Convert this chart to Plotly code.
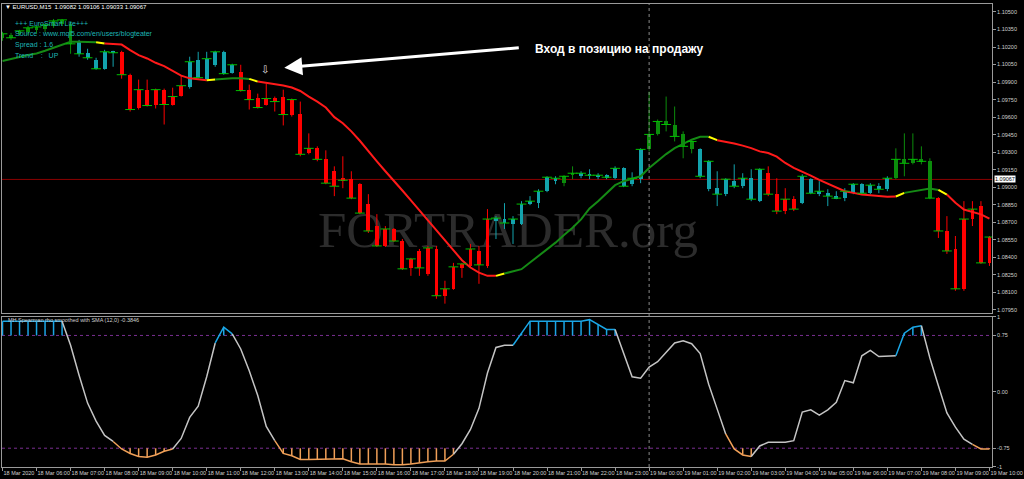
import plotly.graph_objects as go

# ---------------- data ----------------
time_labels = ["18 Mar 2020", "18 Mar 06:00", "18 Mar 07:00", "18 Mar 08:00", "18 Mar 09:00",
               "18 Mar 10:00", "18 Mar 11:00", "18 Mar 12:00", "18 Mar 13:00", "18 Mar 14:00",
               "18 Mar 15:00", "18 Mar 16:00", "18 Mar 17:00", "18 Mar 18:00", "18 Mar 19:00",
               "18 Mar 20:00", "18 Mar 21:00", "18 Mar 22:00", "18 Mar 23:00", "19 Mar 00:00",
               "19 Mar 01:00", "19 Mar 02:00", "19 Mar 03:00", "19 Mar 04:00", "19 Mar 05:00",
               "19 Mar 06:00", "19 Mar 07:00", "19 Mar 08:00", "19 Mar 09:00", "19 Mar 10:00"]
bars_per_hour = 4

price_ticks = [1.07950, 1.08100, 1.08250, 1.08400, 1.08550, 1.08700, 1.08850, 1.09000, 1.09150,
               1.09300, 1.09450, 1.09600, 1.09750, 1.09900, 1.10050, 1.10200, 1.10350, 1.10500]

opens = [1.10279, 1.10304, 1.10313, 1.10330, 1.10347, 1.10355, 1.10381, 1.10398, 1.10398, 1.10244,
         1.10151, 1.10091, 1.10014, 1.10159, 1.10159, 1.09963, 1.09674, 1.09835, 1.09708, 1.09835,
         1.09708, 1.09784, 1.09861, 1.10091, 1.09929, 1.10048, 1.10159, 1.09980, 1.09989, 1.09835,
         1.09767, 1.09708, 1.09767, 1.09776, 1.09622, 1.09631, 1.09290, 1.09333, 1.09239, 1.09137,
         1.09077, 1.09069, 1.09026, 1.08856, 1.08668, 1.08498, 1.08643, 1.08540, 1.08310, 1.08455,
         1.08259, 1.08472, 1.08072, 1.08131, 1.08310, 1.08327, 1.08455, 1.08327, 1.08711, 1.08728,
         1.08685, 1.08685, 1.08856, 1.08864, 1.08966, 1.09052, 1.09035, 1.09111, 1.09103, 1.09111,
         1.09094, 1.09103, 1.09077, 1.09162, 1.09026, 1.09069, 1.09324, 1.09452, 1.09563, 1.09537,
         1.09452, 1.09324, 1.09324, 1.08983, 1.08992, 1.08941, 1.09052, 1.09009, 1.09077, 1.08881,
         1.09120, 1.08941, 1.08796, 1.08898, 1.08864, 1.09069, 1.08949, 1.08949, 1.08924, 1.08907,
         1.08949, 1.09026, 1.08949, 1.09009, 1.08983, 1.09077, 1.09239, 1.09205, 1.09239, 1.09222,
         1.08907, 1.08626, 1.08472, 1.08131, 1.08728, 1.08839, 1.08353]
highs = [1.10330, 1.10321, 1.10347, 1.10381, 1.10381, 1.10398, 1.10440, 1.10440, 1.10415, 1.10261,
         1.10185, 1.10108, 1.10176, 1.10168, 1.10168, 1.09972, 1.09921, 1.09921, 1.09844, 1.09844,
         1.09852, 1.09955, 1.10117, 1.10159, 1.10159, 1.10168, 1.10168, 1.10057, 1.10048, 1.09878,
         1.09801, 1.09887, 1.09776, 1.09835, 1.09759, 1.09733, 1.09461, 1.09350, 1.09316, 1.09179,
         1.09265, 1.09137, 1.09035, 1.08941, 1.08770, 1.08668, 1.08651, 1.08557, 1.08396, 1.08472,
         1.08498, 1.08498, 1.08200, 1.08353, 1.08353, 1.08515, 1.08498, 1.08813, 1.08753, 1.08864,
         1.08753, 1.08881, 1.08924, 1.08983, 1.09094, 1.09094, 1.09103, 1.09179, 1.09137, 1.09154,
         1.09120, 1.09111, 1.09179, 1.09171, 1.09128, 1.09333, 1.09818, 1.09580, 1.09776, 1.09691,
         1.09478, 1.09409, 1.09333, 1.09231, 1.09137, 1.09077, 1.09196, 1.09120, 1.09154, 1.09162,
         1.09179, 1.09077, 1.08992, 1.08924, 1.09111, 1.09077, 1.09052, 1.08983, 1.08966, 1.08992,
         1.09035, 1.09035, 1.09035, 1.09035, 1.09094, 1.09333, 1.09461, 1.09461, 1.09350, 1.09248,
         1.08915, 1.08753, 1.08583, 1.08881, 1.08881, 1.08881, 1.08583]
lows = [1.10253, 1.10261, 1.10296, 1.10304, 1.10321, 1.10330, 1.10364, 1.10381, 1.10142, 1.10117,
        1.10091, 1.10006, 1.10006, 1.10031, 1.09929, 1.09648, 1.09665, 1.09691, 1.09674, 1.09537,
        1.09699, 1.09776, 1.09844, 1.09929, 1.09921, 1.10031, 1.09963, 1.09972, 1.09818, 1.09665,
        1.09674, 1.09699, 1.09648, 1.09529, 1.09605, 1.09265, 1.09282, 1.09222, 1.09026, 1.08924,
        1.08992, 1.08898, 1.08770, 1.08609, 1.08489, 1.08489, 1.08532, 1.08293, 1.08242, 1.08242,
        1.08242, 1.08046, 1.08004, 1.08123, 1.08225, 1.08310, 1.08174, 1.08310, 1.08557, 1.08643,
        1.08515, 1.08677, 1.08847, 1.08822, 1.08958, 1.09026, 1.09009, 1.09069, 1.09077, 1.09069,
        1.09069, 1.09069, 1.09069, 1.09001, 1.09009, 1.09035, 1.09307, 1.09443, 1.09478, 1.09392,
        1.09248, 1.09290, 1.09077, 1.08966, 1.08839, 1.08924, 1.08992, 1.08992, 1.08881, 1.08873,
        1.08924, 1.08770, 1.08770, 1.08796, 1.08856, 1.08941, 1.08924, 1.08839, 1.08898, 1.08881,
        1.08941, 1.08941, 1.08941, 1.08949, 1.08966, 1.09069, 1.09094, 1.09196, 1.09196, 1.08898,
        1.08566, 1.08430, 1.08114, 1.08114, 1.08668, 1.08344, 1.08327]
closes = [1.10313, 1.10279, 1.10338, 1.10364, 1.10372, 1.10389, 1.10423, 1.10432, 1.10227, 1.10142,
          1.10108, 1.10014, 1.10159, 1.10151, 1.09963, 1.09665, 1.09835, 1.09699, 1.09835, 1.09708,
          1.09776, 1.09869, 1.10074, 1.09938, 1.10100, 1.10159, 1.09972, 1.10048, 1.09827, 1.09750,
          1.09682, 1.09759, 1.09733, 1.09622, 1.09750, 1.09282, 1.09333, 1.09239, 1.09035, 1.09009,
          1.09060, 1.08907, 1.08779, 1.08626, 1.08498, 1.08643, 1.08540, 1.08302, 1.08387, 1.08310,
          1.08481, 1.08072, 1.08131, 1.08319, 1.08344, 1.08472, 1.08336, 1.08728, 1.08736, 1.08694,
          1.08728, 1.08856, 1.08881, 1.08966, 1.09086, 1.09077, 1.09094, 1.09120, 1.09120, 1.09103,
          1.09103, 1.09086, 1.09162, 1.09009, 1.09077, 1.09324, 1.09452, 1.09563, 1.09537, 1.09435,
          1.09350, 1.09392, 1.09094, 1.09222, 1.08941, 1.09069, 1.09009, 1.09077, 1.08898, 1.09154,
          1.08941, 1.08796, 1.08898, 1.08813, 1.09094, 1.08949, 1.08966, 1.08924, 1.08907, 1.08966,
          1.09026, 1.08949, 1.09018, 1.08983, 1.09077, 1.09239, 1.09205, 1.09239, 1.09222, 1.08907,
          1.08626, 1.08455, 1.08131, 1.08728, 1.08813, 1.08353, 1.08574]

# candle colour state: g = green, t = teal, r = red
candle_state = ("ggggggggg" "ttttt" "rrrrrrrr" "tttttt"
                "rrrrrrrrrrrrrrrrrrrrrrrrrrrrrr" "tttttttt" "gg" "tttttttt"
                "gggggg" "tttttttt" "rrrr" "ttttttttttt" "ggggg" "rrrrrrr")

ma_values = [1.10080, 1.10100, 1.10114, 1.10131, 1.10145, 1.10168, 1.10193, 1.10221, 1.10244, 1.10244,
             1.10244, 1.10241, 1.10230, 1.10227, 1.10221, 1.10174, 1.10131, 1.10102, 1.10065, 1.10037,
             1.09995, 1.09955, 1.09932, 1.09923, 1.09915, 1.09921, 1.09929, 1.09932, 1.09932, 1.09927,
             1.09904, 1.09893, 1.09881, 1.09870, 1.09853, 1.09824, 1.09776, 1.09733, 1.09682, 1.09600,
             1.09548, 1.09478, 1.09398, 1.09307, 1.09222, 1.09137, 1.09058, 1.08972, 1.08887, 1.08802,
             1.08711, 1.08626, 1.08540, 1.08455, 1.08376, 1.08313, 1.08270, 1.08242, 1.08242, 1.08262,
             1.08279, 1.08299, 1.08356, 1.08413, 1.08470, 1.08526, 1.08592, 1.08654, 1.08725, 1.08819,
             1.08881, 1.08952, 1.09018, 1.09052, 1.09075, 1.09094, 1.09165, 1.09228, 1.09284, 1.09335,
             1.09369, 1.09407, 1.09432, 1.09432, 1.09403, 1.09392, 1.09375, 1.09356, 1.09335, 1.09307,
             1.09293, 1.09262, 1.09208, 1.09165, 1.09134, 1.09100, 1.09063, 1.09029, 1.08995, 1.08966,
             1.08952, 1.08938, 1.08932, 1.08926, 1.08918, 1.08921, 1.08952, 1.08966, 1.08977, 1.08989,
             1.08977, 1.08938, 1.08867, 1.08810, 1.08787, 1.08768, 1.08731]
# moving-average trend state per segment end: g = up, y = turning, r = down
ma_state = ("gggggggggggg" "y" "rrrrrrrrrrrr" "y" "gggg" "y"
            "rrrrrrrrrrrrrrrrrrrrrrrrrrrr" "y" "gggggggggggggggggggggggg" "y"
            "rrrrrrrrrrrrrrrrrrrrr" "y" "gggg" "y" "rrrrr")

spearman = [0.94, 0.94, 0.94, 0.94, 0.94, 0.94, 0.94, 0.94, 0.62, 0.22,
            -0.15, -0.39, -0.58, -0.66, -0.76, -0.82, -0.86, -0.87, -0.84, -0.79,
            -0.76, -0.62, -0.34, -0.19, 0.20, 0.65, 0.86, 0.77, 0.57, 0.28,
            -0.05, -0.46, -0.65, -0.82, -0.85, -0.90, -0.90, -0.90, -0.90, -0.89,
            -0.89, -0.93, -0.96, -0.96, -0.96, -0.96, -0.97, -0.97, -0.96, -0.94,
            -0.93, -0.92, -0.92, -0.83, -0.69, -0.50, -0.22, 0.25, 0.59, 0.62,
            0.62, 0.78, 0.94, 0.94, 0.94, 0.94, 0.94, 0.94, 0.94, 0.96,
            0.90, 0.83, 0.83, 0.50, 0.20, 0.18, 0.33, 0.40, 0.53, 0.65,
            0.68, 0.64, 0.51, 0.10, -0.23, -0.56, -0.76, -0.84, -0.86, -0.72,
            -0.67, -0.67, -0.67, -0.65, -0.27, -0.24, -0.31, -0.24, -0.14, 0.15,
            0.12, 0.48, 0.55, 0.47, 0.48, 0.48, 0.78, 0.86, 0.88, 0.45,
            0.08, -0.28, -0.47, -0.63, -0.70, -0.76, -0.76]
osc_levels = [0.75, -0.75]
osc_ticks = [1, 0.75, 0.0, -0.75, -1]
osc_ticktext = ["1", "0.75", "0.00", "-0.75", "-1"]

current_price = 1.09067
marked_bar = 76            # dotted vertical separator
header = "EURUSD,M15  1.09082 1.09106 1.09033 1.09067"
info_lines = ["+++ EuroSmart Lite+++", "Source : www.mql5.com/en/users/blogteater",
              "Spread : 1.6", "Trend\u00a0\u00a0\u00a0\u00a0:\u00a0\u00a0\u00a0UP"]
osc_title = "MH Spearman rho smoothed with SMA (12,0) -0.3846"
callout = "Вход в позицию на продажу"

# ---------------- geometry helpers (text placement only) ----------------
W, H = 1024, 479
ML, MR, MT, MB = 1, 27, 2, 12
PW, PH = W - ML - MR, H - MT - MB
def fx(px):
    return (px - ML) / PW
def fy(py):
    return (H - MB - py) / PH

N = len(closes)
idx_all = list(range(N))
XR = [-0.06, 116.3]
FONT = "Liberation Sans"
AXCOL = "#9a9a9a"
TXT = "#d0d0d0"

fig = go.Figure()

# ---------------- candles ----------------
CANDLE_COL = {"g": "#0c8c0c", "t": "#13a3ad", "r": "#ff0000"}
for st, col in CANDLE_COL.items():
    idx = [i for i in idx_all if candle_state[i] == st]
    wx, wy = [], []
    for i in idx:
        wx += [i, i, None]
        wy += [lows[i], highs[i], None]
    fig.add_trace(go.Scatter(x=wx, y=wy, mode="lines", line=dict(color=col, width=1),
                             xaxis="x", yaxis="y", hoverinfo="skip"))
    fig.add_trace(go.Bar(x=idx, base=[min(opens[i], closes[i]) for i in idx],
                         y=[max(abs(closes[i] - opens[i]), 0.00009) for i in idx],
                         width=0.45, marker=dict(color=col, line=dict(width=0)),
                         xaxis="x", yaxis="y", hoverinfo="skip"))

# ---------------- moving average, coloured by trend ----------------
MA_COL = {"g": "#158a15", "y": "#ffff00", "r": "#ff1a1a"}
i = 1
while i < N:
    st = ma_state[i]
    j = i
    while j + 1 < N and ma_state[j + 1] == st:
        j += 1
    xs = list(range(i - 1, j + 1))
    fig.add_trace(go.Scatter(x=xs, y=[ma_values[k] for k in xs], mode="lines",
                             line=dict(color=MA_COL[st], width=2), xaxis="x", yaxis="y",
                             hoverinfo="skip"))
    i = j + 1

# close ticks
fig.add_trace(go.Scatter(x=idx_all, y=closes, mode="markers",
                         marker=dict(symbol="line-ew", size=7, line=dict(width=1, color="#00c000")),
                         xaxis="x", yaxis="y", hoverinfo="skip"))

# ---------------- oscillator ----------------
def osc_state(v):
    if v > osc_levels[0]:
        return "b"
    if v < osc_levels[1]:
        return "o"
    return "n"
OSC_COL = {"b": "#1aa6e6", "o": "#f0a058", "n": "#c4c4c4"}

# stems
for st, lvl in (("b", osc_levels[0]), ("o", osc_levels[1])):
    sx, sy = [], []
    for k in idx_all:
        if osc_state(spearman[k]) == st:
            sx += [k, k, None]
            sy += [lvl, spearman[k], None]
    fig.add_trace(go.Scatter(x=sx, y=sy, mode="lines", line=dict(color=OSC_COL[st], width=1.5),
                             xaxis="x2", yaxis="y2", hoverinfo="skip"))

i = 1
while i < N:
    st = osc_state(spearman[i])
    j = i
    while j + 1 < N and osc_state(spearman[j + 1]) == st:
        j += 1
    xs = list(range(i - 1, j + 1))
    fig.add_trace(go.Scatter(x=xs, y=[spearman[k] for k in xs], mode="lines",
                             line=dict(color=OSC_COL[st], width=1.5), xaxis="x2", yaxis="y2",
                             hoverinfo="skip"))
    i = j + 1

# ---------------- shapes ----------------
shapes = [
    dict(type="line", xref="x domain", yref="y", x0=0, x1=1, y0=current_price, y1=current_price,
         line=dict(color="#8b0000", width=1), layer="below"),
    dict(type="rect", xref="paper", yref="paper", x0=fx(300), x1=fx(720), y0=fy(250), y1=fy(195),
         line=dict(width=0), fillcolor="rgba(0,0,0,0)", layer="below",
         label=dict(text="FORTRADER.org", textposition="middle center",
                    font=dict(family="Liberation Serif", size=51, color="#2c2c2c"))),
    dict(type="line", xref="x", yref="paper", x0=marked_bar, x1=marked_bar, y0=0, y1=1,
         line=dict(color="#8a8a8a", width=1, dash="dot")),
]
for lvl in osc_levels:
    shapes.append(dict(type="line", xref="x2 domain", yref="y2", x0=0, x1=1, y0=lvl, y1=lvl,
                       line=dict(color="#7a2f92", width=1, dash="dot"), layer="below"))

# ---------------- annotations ----------------
ann = []
ann.append(dict(x=fx(2), y=fy(5), xref="paper", yref="paper", xanchor="left", yanchor="middle",
                text="\u25bc " + header, showarrow=False, font=dict(family=FONT, size=6, color="#ffffff")))
for k, (t, yy) in enumerate(zip(info_lines, [21.5, 32.3, 42.7, 53.3])):
    ann.append(dict(x=fx(12), y=fy(yy), xref="paper", yref="paper", xanchor="left", yanchor="middle",
                    text=t, showarrow=False, font=dict(family=FONT, size=7, color="#1db6b6")))
ann.append(dict(x=fx(535), y=fy(47), xref="paper", yref="paper", xanchor="left", yanchor="middle",
                text="<b>" + callout + "</b>", showarrow=False,
                font=dict(family=FONT, size=12, color="#ffffff")))
ann.append(dict(x=fx(285), y=fy(66), xref="paper", yref="paper", ax=236, ay=-20, text="",
                showarrow=True, arrowhead=2, arrowsize=1.2, arrowwidth=3, arrowcolor="#ffffff"))
ann.append(dict(x=fx(266), y=fy(68), xref="paper", yref="paper", xanchor="center", yanchor="middle",
                text="\u21e9", showarrow=False, font=dict(family="DejaVu Sans", size=10, color="#e8e8e8")))
ann.append(dict(x=1.0, y=current_price, xref="paper", yref="y", xanchor="left", yanchor="middle",
                xshift=2, text=f"{current_price:.5f}", showarrow=False, bgcolor="#ffffff", borderpad=0,
                font=dict(family=FONT, size=5.5, color="#000000")))
ann.append(dict(x=fx(5), y=fy(319), xref="paper", yref="paper", xanchor="left", yanchor="middle",
                text=osc_title, showarrow=False, font=dict(family=FONT, size=5.5, color=TXT)))

fig.update_layout(
    width=W, height=H, paper_bgcolor="#000000", plot_bgcolor="#000000",
    margin=dict(l=ML, r=MR, t=MT, b=MB), showlegend=False, barmode="overlay", bargap=0,
    xaxis=dict(domain=[0, 1], anchor="y", range=XR, showticklabels=False, ticks="",
               showgrid=False, zeroline=False, showline=True, mirror=True, linecolor=AXCOL),
    yaxis=dict(domain=[fy(312), 1], anchor="x", side="right", range=[1.07927, 1.10568],
               tickvals=price_ticks, ticktext=[f"{p:.5f}" for p in price_ticks],
               ticks="outside", ticklen=3, tickcolor=AXCOL, showgrid=False, zeroline=False,
               showline=True, mirror=True, linecolor=AXCOL,
               tickfont=dict(family=FONT, size=5.5, color=TXT)),
    xaxis2=dict(domain=[0, 1], anchor="y2", range=XR,
                tickvals=[k * bars_per_hour for k in range(len(time_labels))], ticktext=time_labels,
                tickangle=0, ticks="outside", ticklen=3, tickcolor=AXCOL,
                ticklabelposition="outside right", ticklabeloverflow="allow",
                showgrid=False, zeroline=False, showline=True, mirror=True, linecolor=AXCOL,
                tickfont=dict(family=FONT, size=5.5, color=TXT)),
    yaxis2=dict(domain=[0, fy(316)], anchor="x2", side="right", range=[-1, 1],
                tickvals=osc_ticks, ticktext=osc_ticktext, ticks="outside", ticklen=3,
                tickcolor=AXCOL, showgrid=False, zeroline=False, showline=True, mirror=True,
                linecolor=AXCOL, ticklabeloverflow="allow",
                tickfont=dict(family=FONT, size=5.5, color=TXT)),
    shapes=shapes, annotations=ann,
)

fig.write_html("out.html", config={"displayModeBar": False},
               post_script="document.body.style.margin='0';document.body.style.overflow='hidden';")
